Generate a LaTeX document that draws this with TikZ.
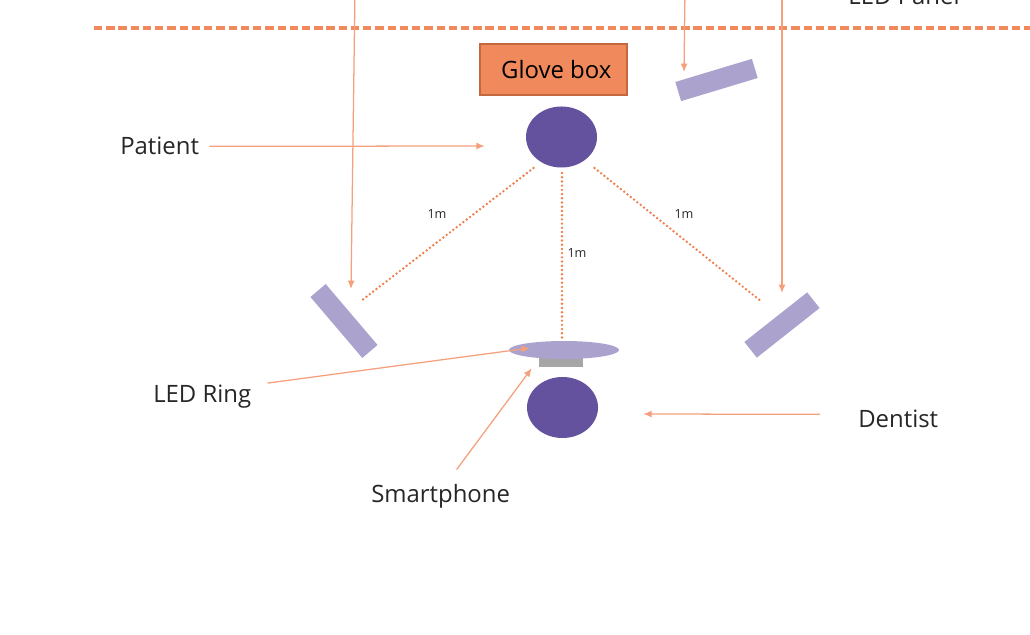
\documentclass[tikz,border=0pt]{standalone}
\usepackage{fontspec}
\setmainfont{Open Sans}
\usetikzlibrary{shapes,arrows.meta}

\definecolor{gloveorange}{HTML}{F08A5D}
\definecolor{gloveedge}{HTML}{C4683F}
\definecolor{lineorange}{HTML}{F5A07C}
\definecolor{dotorange}{HTML}{F07E4C}
\definecolor{darkpurple}{HTML}{64529E}
\definecolor{lightpurple}{HTML}{ACA2CE}
\definecolor{phonegray}{HTML}{A6A6A6}
\definecolor{textgray}{HTML}{262626}

\begin{document}
\begin{tikzpicture}[x=0.025cm, y=-0.025cm,
  person/.style={ellipse, fill=darkpurple, inner sep=0, minimum width=1.775cm, minimum height=1.525cm},
  panel/.style={rectangle, fill=lightpurple, inner sep=0, minimum width=2cm, minimum height=0.5cm},
  pointer/.style={lineorange, line width=0.9pt, -{Latex[length=6pt,width=5pt]}},
  dist/.style={dotorange, line width=1.9pt, line cap=round, dash pattern=on 0pt off 3pt},
  lbl/.style={anchor=base west, inner sep=0, text=textgray, font=\fontsize{17}{20}\selectfont},
  meter/.style={inner sep=0, text=textgray, font=\fontsize{9}{11}\selectfont}]
\useasboundingbox (0,0) rectangle (1030,635);

\draw[gloveorange, line width=2.4pt, dash pattern=on 5.9pt off 2.8pt] (94,28) -- (1040,28);

\node[rectangle, fill=gloveorange, draw=gloveedge, line width=0.8pt, minimum width=3.675cm, minimum height=1.275cm, text=black, font=\fontsize{17}{20}\selectfont] (glovebox) at (553.5,69.5) {\hspace*{4pt}Glove box};

\node[person] (patient) at (561.5,137) {};
\node[person] (dentist) at (562.5,407.5) {};

\node[panel, rotate=16.8] (toppanel) at (716.5,80) {};
\node[panel, rotate=-49.6] (leftpanel) at (344,321) {};
\node[panel, rotate=38.3] (rightpanel) at (782,325) {};

\node[rectangle, fill=phonegray, inner sep=0, minimum width=1.1cm, minimum height=0.225cm] (phone) at (561,362.5) {};
\node[ellipse, fill=lightpurple, inner sep=0, minimum width=2.75cm, minimum height=0.45cm] (ring) at (564,350) {};

\node[lbl] (patientlbl) at (120,155) {Patient};
\node[lbl] (ringlbl) at (153,402) {LED Ring};
\node[lbl] (phonelbl) at (371,502) {Smartphone};
\node[lbl] (dentistlbl) at (858,427) {Dentist};
\node[lbl, anchor=base] (panellbl) at (904,5) {LED Panel};

\node[meter] (m1) at (437,214) {1m};
\node[meter] (m2) at (577,253) {1m};
\node[meter] (m3) at (684,214) {1m};

\draw[dist] ([shift={(-28,31)}]patient.center) -- ([shift={(17,-20)}]leftpanel.center);
\draw[dist] ([shift={(0.5,36)}]patient.center) -- ([shift={(-2,-10)}]ring.center);
\draw[dist] ([shift={(33,31)}]patient.center) -- ([shift={(-20,-23)}]rightpanel.center);

\coordinate (srcleft) at (355,-10);
\coordinate (srcmid) at (685,-10);
\coordinate (srcright) at (782,-10);
\coordinate (tipleft) at (351,289);
\coordinate (tipmid) at (684,72);
\coordinate (tipright) at (782,293);
\draw[pointer] (srcleft) -- (tipleft);
\draw[pointer] (srcmid) -- (tipmid);
\draw[pointer] (srcright) -- (tipright);

\draw[pointer] ([shift={(10,0)}]patientlbl.east) -- ([shift={(-41,9)}]patient.west);
\draw[pointer] ([shift={(16,-13)}]ringlbl.east) -- ([shift={(-34,-2)}]ring.center);
\draw[pointer] ([shift={(16,-14)}]phonelbl.north) -- ([shift={(-7,1)}]phone.south west);
\draw[pointer] ([shift={(-38,-4)}]dentistlbl.west) -- ([shift={(45,6.5)}]dentist.east);
\end{tikzpicture}
\end{document}
